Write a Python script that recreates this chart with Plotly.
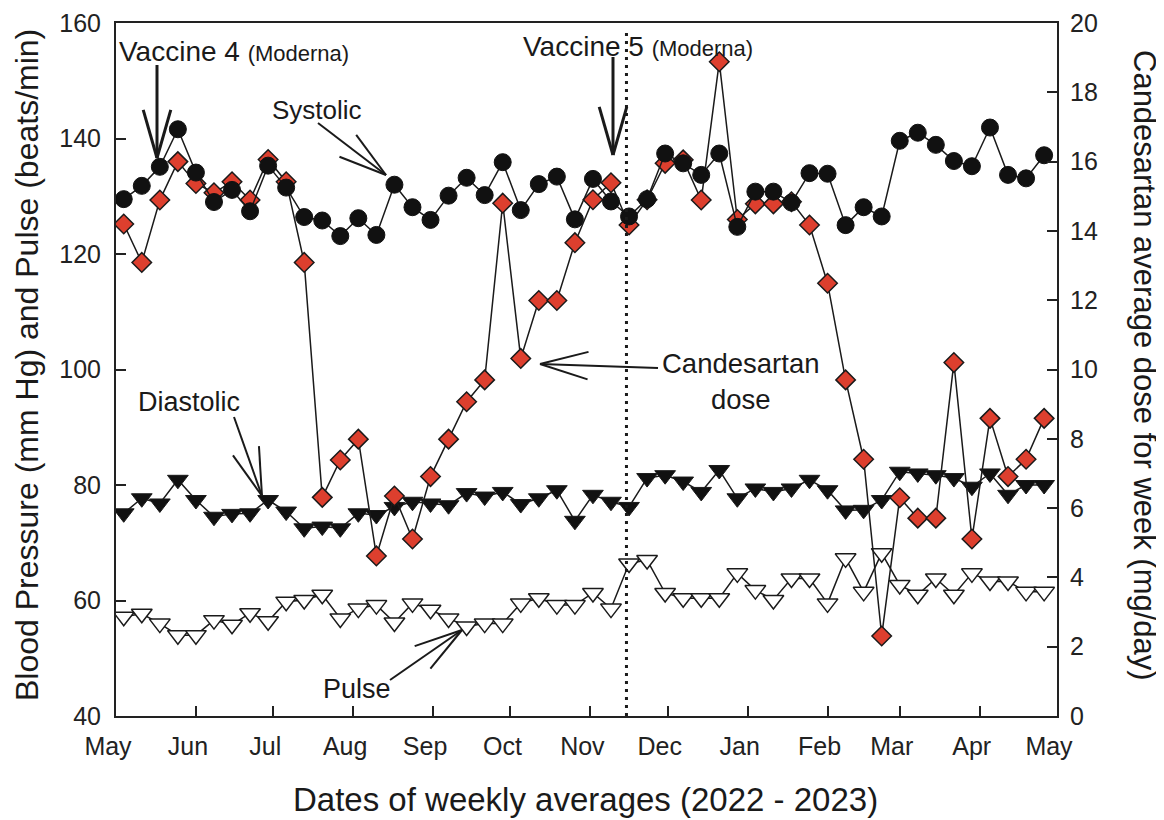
import math
import pandas as pd
import plotly.graph_objects as go

# ---------------- data ----------------
week_dates = pd.date_range("2022-05-04", periods=52, freq="7D")  # weekly averages

systolic = [129.5, 131.8, 135.1, 141.6, 134.1, 129.0, 131.1, 127.4, 135.3, 131.5,
            126.4, 125.8, 123.1, 126.2, 123.3, 132.0, 128.1, 125.9, 130.1, 133.2,
            130.2, 135.9, 127.6, 132.1, 133.4, 126.0, 133.0, 129.1, 126.5, 129.5,
            137.4, 135.7, 133.7, 137.4, 124.7, 130.8, 130.8, 128.9, 134.0, 133.9,
            125.0, 128.1, 126.5, 139.6, 141.0, 138.9, 136.1, 135.2, 141.9, 133.7,
            133.1, 137.1]

diastolic = [75.1, 77.7, 76.8, 80.9, 77.4, 74.5, 75.0, 75.1, 77.4, 75.4,
             72.5, 72.8, 72.5, 75.1, 74.8, 76.2, 77.1, 76.8, 76.5, 78.6,
             78.0, 78.8, 76.7, 77.7, 79.1, 73.8, 78.3, 77.1, 76.2, 81.2,
             81.7, 80.6, 78.8, 82.6, 77.7, 79.4, 78.8, 79.4, 80.9, 79.1,
             75.6, 75.7, 77.4, 82.3, 82.0, 81.7, 81.2, 79.7, 82.0, 78.3,
             80.0, 80.0]

pulse = [57.2, 57.7, 56.0, 54.0, 54.0, 56.6, 55.8, 57.8, 56.4, 59.8,
         60.1, 61.0, 56.9, 58.6, 59.2, 56.2, 59.5, 58.4, 56.9, 55.5,
         56.0, 56.0, 59.5, 60.4, 59.2, 59.2, 61.3, 58.6, 66.4, 67.0,
         61.3, 60.4, 60.4, 60.4, 64.7, 61.8, 60.1, 63.8, 63.8, 59.5,
         67.3, 61.5, 68.2, 62.7, 61.0, 63.8, 61.0, 64.7, 63.3, 63.3,
         61.5, 61.5]

candesartan = [14.2, 13.09, 14.89, 16.0, 15.37, 15.1, 15.42, 14.89, 16.06, 15.42,
               13.09, 6.31, 7.39, 7.99, 4.62, 6.35, 5.11, 6.91, 7.99, 9.07,
               9.70, 14.8, 10.32, 11.99, 11.99, 13.66, 14.9, 15.39, 14.17, 14.9,
               15.95, 16.05, 14.89, 18.88, 14.33, 14.78, 14.78, 14.84, 14.17, 12.49,
               9.70, 7.41, 2.31, 6.30, 5.71, 5.71, 10.20, 5.11, 8.59, 6.91,
               7.41, 8.59]

month_ticks = ["2022-05-01", "2022-06-01", "2022-07-01", "2022-08-01", "2022-09-01",
               "2022-10-01", "2022-11-01", "2022-12-01", "2023-01-01", "2023-02-01",
               "2023-03-01", "2023-04-01", "2023-05-01"]
month_labels = ["May", "Jun", "Jul", "Aug", "Sep", "Oct", "Nov", "Dec", "Jan", "Feb",
                "Mar", "Apr", "May"]
vaccine5_date = "2022-11-15"

# ---------------- styling ----------------
FONT = "Liberation Sans"
INK = "#1a1a1a"
RED = "#DD3F2E"

# page size and the default 8px body margin of the html page
PAGE_W, PAGE_H = 1164, 820
OFF = 8
# plot area in page pixels
L, R, T, B = 116, 1057, 23, 716
W, H = PAGE_W - OFF, PAGE_H - OFF


def P(x, y):
    return (x - L) / (R - L), (B - y) / (B - T)


fig = go.Figure()

fig.add_trace(go.Scatter(
    x=week_dates, y=pulse, mode="lines+markers", yaxis="y",
    line=dict(color=INK, width=1.5),
    marker=dict(symbol="triangle-down", size=18, color="white",
                line=dict(color=INK, width=1.5)),
    name="Pulse"))

fig.add_trace(go.Scatter(
    x=week_dates, y=diastolic, mode="lines+markers", yaxis="y",
    line=dict(color=INK, width=1.5),
    marker=dict(symbol="triangle-down", size=18, color="#111111",
                line=dict(color=INK, width=1)),
    name="Diastolic"))

fig.add_trace(go.Scatter(
    x=week_dates, y=candesartan, mode="lines+markers", yaxis="y2",
    line=dict(color=INK, width=1.5),
    marker=dict(symbol="diamond", size=15, color=RED,
                line=dict(color=INK, width=1.5)),
    name="Candesartan dose"))

fig.add_trace(go.Scatter(
    x=week_dates, y=systolic, mode="lines+markers", yaxis="y3",
    line=dict(color=INK, width=1.5),
    marker=dict(symbol="circle", size=17, color="#111111",
                line=dict(color="#111111", width=1)),
    name="Systolic"))

shapes = []
annotations = []


def arrow(tail, tip, width=2, length=50, ang=16):
    dx, dy = tail[0] - tip[0], tail[1] - tip[1]
    n = math.hypot(dx, dy)
    ux, uy = dx / n, dy / n
    pts = [(tail, tip)]
    for s in (1, -1):
        a = math.radians(ang) * s
        rx = ux * math.cos(a) - uy * math.sin(a)
        ry = ux * math.sin(a) + uy * math.cos(a)
        pts.append(((tip[0] + length * rx, tip[1] + length * ry), tip))
    for (p0, p1) in pts:
        x0, y0 = P(*p0)
        x1, y1 = P(*p1)
        shapes.append(dict(type="line", xref="paper", yref="paper",
                           x0=x0, y0=y0, x1=x1, y1=y1, layer="above",
                           line=dict(color=INK, width=width)))


def label(text, x, y, size=27, xanchor="center", **kw):
    px, py = P(x, y)
    annotations.append(dict(text=text, x=px, y=py, xref="paper", yref="paper",
                            showarrow=False, xanchor=xanchor, yanchor="middle",
                            font=dict(family=FONT, size=size, color=INK), **kw))


# vaccine 5 dotted line
shapes.append(dict(type="line", xref="x", yref="paper", x0=vaccine5_date, x1=vaccine5_date,
                   y0=0, y1=0.99, layer="above",
                   line=dict(color=INK, width=3, dash="3px,5px")))

arrow((157, 65), (157, 158), width=3)
arrow((613, 57), (613, 155), width=3)
arrow((318, 123), (386, 175), width=2)
arrow((658, 368), (540, 364), width=2)
arrow((234, 417), (262, 496), width=2)
arrow((390, 680), (462, 630), width=2)

label("Vaccine 4 <span style='font-size:22px'>(Moderna)</span>", 117, 51, size=28, xanchor="left")
label("Vaccine 5 <span style='font-size:22px'>(Moderna)</span>", 521, 46, size=28, xanchor="left")
label("Systolic", 317, 110, size=26)
label("Candesartan<br>dose", 740, 381, size=27.5)
label("Diastolic", 189, 402)
label("Pulse", 357, 689)

# axis titles
label("Dates of weekly averages (2022 - 2023)", 585, 800, size=33)
label("Blood Pressure (mm Hg) and Pulse (beats/min)", 27, 365, size=32, textangle=-90)
label("Candesartan average dose for week (mg/day)", 1145, 365, size=31, textangle=90)

tickfont = dict(family=FONT, size=25, color="#222222")

fig.update_layout(
    width=W, height=H,
    margin=dict(l=L - OFF, r=PAGE_W - R, t=T - OFF, b=PAGE_H - B, pad=0),
    paper_bgcolor="white", plot_bgcolor="white",
    showlegend=False,
    font=dict(family=FONT, color=INK),
    xaxis=dict(type="date", range=["2022-05-01", "2023-05-01"],
               tickvals=month_ticks, ticktext=month_labels,
               ticks="inside", ticklen=10, tickwidth=2, tickcolor="#222222",
               showline=True, linecolor="#222222", linewidth=2, mirror=True,
               showgrid=False, zeroline=False, tickfont=tickfont,
               ticklabelshift=-8, ticklabelstandoff=7, automargin=False),
    yaxis=dict(range=[40, 160], tickvals=[40, 60, 80, 100, 120, 140, 160],
               ticks="inside", ticklen=10, tickwidth=2, tickcolor="#222222",
               showline=True, linecolor="#222222", linewidth=2,
               showgrid=False, zeroline=False, tickfont=tickfont,
               ticklabelstandoff=8, automargin=False),
    yaxis2=dict(range=[0, 20], tickvals=list(range(0, 21, 2)), overlaying="y", side="right",
                ticks="inside", ticklen=10, tickwidth=2, tickcolor="#222222",
                showline=True, linecolor="#222222", linewidth=2,
                showgrid=False, zeroline=False, tickfont=tickfont,
                ticklabelstandoff=6, automargin=False),
    yaxis3=dict(range=[40, 160], overlaying="y", matches="y", visible=False,
                showgrid=False, zeroline=False),
    shapes=shapes,
    annotations=annotations,
)

fig.write_html("out.html")
